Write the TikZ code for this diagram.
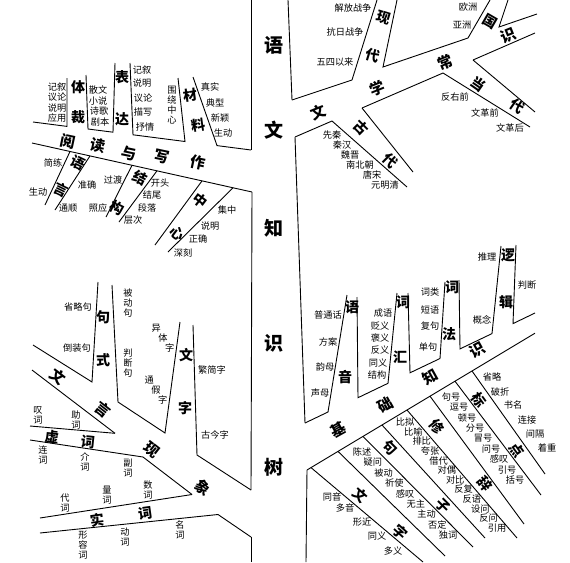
\documentclass[tikz,border=0pt]{standalone}
\usepackage{fontspec}
\newfontfamily\cjk{Noto Sans CJK SC}
\begin{document}
\begin{tikzpicture}[x=1pt,y=-1pt,
  ln/.style={line width=0.9pt, line join=miter},
  lbl/.style={font=\cjk\fontsize{9.2}{10}\selectfont, inner sep=0pt},
  vlbl/.style={inner sep=0pt, align=center, font=\cjk\fontsize{9.2}{9.9}\selectfont},
  br/.style={font=\cjk\bfseries\fontsize{14}{14}\selectfont, inner sep=0pt},
  mbr/.style={font=\cjk\bfseries\fontsize{15}{15}\selectfont, inner sep=0pt},
  ttl/.style={font=\cjk\bfseries\fontsize{19}{19}\selectfont, inner sep=0pt}]
\fill[white] (0,0) rectangle (570,562);
\useasboundingbox (0,0) rectangle (570,562);

% ---------- trunk ----------
\draw[ln] (251,0) -- (251,150);
\draw[ln] (252,192) -- (251,490);
\draw[ln] (251,537) -- (251,562);
\draw[ln] (288,0) -- (292,100);
\draw[ln] (295,137) -- (305,423);
\draw[ln] (307,470) -- (306,562);
\node[ttl] (t1) at (274,45) {语};
\node[ttl] (t2) at (274,130) {文};
\node[ttl] (t3) at (274,228) {知};
\node[ttl] (t4) at (274,343) {识};
\node[ttl] (t5) at (274,467) {树};

% ---------- 阅读与写作 ----------
\draw[ln] (33,122) -- (67,126.4) -- (67,78);
\draw[ln] (86,75) -- (88,129) -- (113,132.2) -- (115,63);
\draw[ln] (130,63) -- (133,134.8) -- (185,141.5) -- (178,78);
\draw[ln] (193,77) -- (217,145.6) -- (251,150);
\draw[ln] (32,143) -- (252,192);
\draw[ln] (70,151.5) -- (45,205);
\draw[ln] (90,155.9) -- (55,210);
\draw[ln] (132,165.3) -- (106,217);
\draw[ln] (157,170.8) -- (119,222);
\draw[ln] (202,180.9) -- (155,245);
\draw[ln] (233,187.8) -- (168,252);

\node[mbr,rotate=-12] (r1) at (68,141) {阅};
\node[mbr,rotate=-12] (r2) at (98,146) {读};
\node[mbr,rotate=-12] (r3) at (129,154) {与};
\node[mbr,rotate=-12] (r4) at (162,157) {写};
\node[mbr,rotate=-12] (r5) at (198,163) {作};

\node[lbl] (a1) at (57,87) {记叙};
\node[lbl] (a2) at (57,97.3) {议论};
\node[lbl] (a3) at (57,107.6) {说明};
\node[lbl] (a4) at (57,118) {应用};
\node[br] (a5) at (78,87) {体};
\node[br] (a6) at (78,117) {裁};
\node[lbl] (a7) at (98,90) {散文};
\node[lbl] (a8) at (98,100.6) {小说};
\node[lbl] (a9) at (99,111.2) {诗歌};
\node[lbl] (a10) at (100,122) {剧本};
\node[br] (a11) at (122,77) {表};
\node[br] (a12) at (122,119) {达};
\node[lbl] (a13) at (142,70) {记叙};
\node[lbl] (a14) at (142,83.5) {说明};
\node[lbl] (a15) at (143,98) {议论};
\node[lbl] (a16) at (143,112) {描写};
\node[lbl] (a17) at (145,127) {抒情};
\node[vlbl] (a18) at (172,105) {围\\绕\\中\\心};
\node[br,rotate=8] (a19) at (190,95) {材};
\node[br,rotate=8] (a20) at (198,125) {料};
\node[lbl] (a21) at (210,87) {真实};
\node[lbl] (a22) at (215,103) {典型};
\node[lbl] (a23) at (220,118) {新颖};
\node[lbl] (a24) at (223,133) {生动};

\node[br,rotate=-26] (b1) at (78,163) {语};
\node[br,rotate=-26] (b2) at (61,190) {言};
\node[lbl] (b3) at (53,163) {简练};
\node[lbl] (b4) at (38,192) {生动};
\node[lbl] (b5) at (87,185) {准确};
\node[lbl] (b6) at (68,208) {通顺};
\node[br,rotate=-27] (b7) at (140,178) {结};
\node[br,rotate=-27] (b8) at (117,208) {构};
\node[lbl] (b9) at (113,180) {过渡};
\node[lbl] (b10) at (98,208) {照应};
\node[lbl] (b11) at (160,183) {开头};
\node[lbl] (b12) at (152,195) {结尾};
\node[lbl] (b13) at (147,208) {段落};
\node[lbl] (b14) at (133,220) {层次};
\node[br,rotate=-37] (b15) at (200,200) {中};
\node[br,rotate=-37] (b16) at (177,233) {心};
\node[lbl] (b17) at (227,210) {集中};
\node[lbl] (b18) at (210,226) {说明};
\node[lbl] (b19) at (198,239) {正确};
\node[lbl] (b20) at (183,253) {深刻};

% ---------- 文言现象 ----------
\draw[ln] (33,345) -- (92,382) -- (98,282);
\draw[ln] (112,285) -- (118,402) -- (165,433) -- (180,322);
\draw[ln] (193,325) -- (197,455) -- (251,490);
\draw[ln] (32,370) -- (115,433.3);
\draw[ln] (143,457) -- (192,494.5);
\draw[ln] (218,514.5) -- (251,537);
\draw[ln] (30,426) -- (115,433.3);
\draw[ln] (30,440) -- (143,457);
\draw[ln] (40,518) -- (192,494.5);
\draw[ln] (40,533) -- (218,514.5);

\node[mbr,rotate=-38] (c1) at (58,377) {文};
\node[mbr,rotate=-38] (c2) at (103,410) {言};
\node[mbr,rotate=-38] (c3) at (152,450) {现};
\node[mbr,rotate=-38] (c4) at (203,488) {象};

\node[br] (c5) at (103,317) {句};
\node[br] (c6) at (103,360) {式};
\node[lbl] (c7) at (78,307) {省略句};
\node[lbl] (c8) at (77,348) {倒装句};
\node[vlbl] (c9) at (128,303) {被\\动\\句};
\node[vlbl] (c10) at (128,363) {判\\断\\句};
\node[br] (c11) at (186,355) {文};
\node[br] (c12) at (185,408) {字};
\node[lbl] (c13a) at (156.3,328.4) {异};
\node[lbl] (c13b) at (163,338) {体};
\node[lbl] (c13c) at (169.7,347.6) {字};
\node[lbl] (c14a) at (149.3,380.4) {通};
\node[lbl] (c14b) at (156,390) {假};
\node[lbl] (c14c) at (162.7,399.6) {字};
\node[lbl] (c15) at (212,370) {繁简字};
\node[lbl] (c16) at (215,435) {古今字};

\node[br,rotate=-6] (d1) at (52,437) {虚};
\node[br,rotate=-6] (d2) at (88,442) {词};
\node[vlbl] (d3) at (38,415) {叹\\词};
\node[vlbl] (d4) at (76,420) {助\\词};
\node[vlbl] (d5) at (43,455) {连\\词};
\node[vlbl] (d6) at (85,462) {介\\词};
\node[vlbl] (d7) at (128,468) {副\\词};
\node[br,rotate=8] (d8) at (97,520) {实};
\node[br,rotate=8] (d9) at (145,513) {词};
\node[vlbl] (d10) at (65,503) {代\\词};
\node[vlbl] (d11) at (107,495) {量\\词};
\node[vlbl] (d12) at (148,490) {数\\词};
\node[vlbl] (d13) at (83,545) {形\\容\\词};
\node[vlbl] (d14) at (125,537) {动\\词};
\node[vlbl] (d15) at (180,530) {名\\词};

% ---------- 文学常识 ----------
\draw[ln] (292,100) -- (352,80) -- (377,0);
\draw[ln] (397,0) -- (383,67) -- (468,38) -- (490,0);
\draw[ln] (508,0) -- (499,27) -- (537,14);
\draw[ln] (295,137) -- (332,121);
\draw[ln] (362,108) -- (443,73);
\draw[ln] (473,60) -- (535,33);
\draw[ln] (332,121) -- (407,187);
\draw[ln] (362,108) -- (413,172);
\draw[ln] (443,73) -- (530,127);
\draw[ln] (473,60) -- (535,112);

\node[mbr,rotate=22] (e1) at (318,112) {文};
\node[mbr,rotate=22] (e2) at (377,88) {学};
\node[mbr,rotate=22] (e3) at (445,62) {常};
\node[mbr,rotate=22] (e4) at (508,35) {识};
\node[lbl] (e5) at (353,8) {解放战争};
\node[lbl] (e6) at (345,32) {抗日战争};
\node[lbl] (e7) at (335,62) {五四以来};
\node[br,rotate=-17] (e8) at (384,18) {现};
\node[br,rotate=-17] (e9) at (373,55) {代};
\node[lbl] (e10) at (468,7) {欧洲};
\node[lbl] (e11) at (462,25) {亚洲};
\node[br,rotate=-30] (e12) at (490,22) {国};
\node[br,rotate=-35] (e13) at (478,84) {当};
\node[br,rotate=-35] (e14) at (517,106) {代};
\node[lbl] (e15) at (455,97) {反右前};
\node[lbl] (e16) at (485,113) {文革前};
\node[lbl] (e17) at (510,128) {文革后};
\node[br,rotate=-45] (e18) at (361,128) {古};
\node[br,rotate=-45] (e19) at (390,161) {代};
\node[lbl] (e20) at (332,135) {先秦};
\node[lbl] (e21) at (342,145) {秦汉};
\node[lbl] (e22) at (350,155) {魏晋};
\node[lbl] (e23) at (360,165) {南北朝};
\node[lbl] (e24) at (372,175) {唐宋};
\node[lbl] (e25) at (385,185) {元明清};

% ---------- 基础知识 ----------
\draw[ln] (305,423) -- (328,412) -- (347,295);
\draw[ln] (357,297) -- (358,397.7) -- (388,383.3) -- (397,293);
\draw[ln] (408,293) -- (410,372.8) -- (440,358.5) -- (445,282);
\draw[ln] (459,280) -- (460,348.9) -- (492,333.6) -- (501,246);
\draw[ln] (516,245) -- (513,323.6) -- (535,313);
\draw[ln] (307,470) -- (535,333.2);
\draw[ln] (311,467.6) -- (423,562);
\draw[ln] (338,451.4) -- (445,556);
\draw[ln] (363,436.4) -- (473,547);
\draw[ln] (382,425) -- (485,538);
\draw[ln] (407,410) -- (517,538);
\draw[ln] (430,396.2) -- (524,524);
\draw[ln] (455,381.2) -- (541,495);
\draw[ln] (472,371) -- (545,474);

\node[mbr,rotate=29] (f1) at (338,430) {基};
\node[mbr,rotate=29] (f2) at (385,405) {础};
\node[mbr,rotate=29] (f3) at (430,377) {知};
\node[mbr,rotate=29] (f4) at (477,350) {识};

\node[lbl] (g1) at (328,315) {普通话};
\node[lbl] (g2) at (328,342) {方案};
\node[lbl] (g3) at (325,367) {韵母};
\node[lbl] (g4) at (320,393) {声母};
\node[br] (g5) at (352,307) {语};
\node[br] (g6) at (345,377) {音};
\node[lbl] (g7) at (383,313) {成语};
\node[lbl] (g8) at (380,325.5) {贬义};
\node[lbl] (g9) at (380,338) {褒义};
\node[lbl] (g10) at (380,350) {反义};
\node[lbl] (g11) at (378,362.5) {同义};
\node[lbl] (g12) at (377,375) {结构};
\node[br] (g13) at (403,302) {词};
\node[br] (g14) at (400,357) {汇};
\node[lbl] (g15) at (430,292) {词类};
\node[lbl] (g16) at (430,310) {短语};
\node[lbl] (g17) at (430,326) {复句};
\node[lbl] (g18) at (428,347) {单句};
\node[br] (g19) at (452,287) {词};
\node[br] (g20) at (449,334) {法};
\node[lbl] (g21) at (487,257) {推理};
\node[lbl] (g22) at (482,320) {概念};
\node[lbl] (g23) at (527,285) {判断};
\node[br] (g24) at (508,255) {逻};
\node[br] (g25) at (506,302) {辑};

\node[lbl] (h1) at (332,497) {同音};
\node[lbl] (h2) at (345,508) {多音};
\node[lbl] (h3) at (362,522) {形近};
\node[lbl] (h4) at (377,536) {同义};
\node[lbl] (h5) at (393,551) {多义};
\node[br,rotate=-42] (h6) at (360,495) {文};
\node[br,rotate=-42] (h7) at (400,532) {字};
\node[lbl] (h8) at (362,452) {陈述};
\node[lbl] (h9) at (372.8,462.4) {疑问};
\node[lbl] (h10) at (383.5,472.8) {被动};
\node[lbl] (h11) at (394.3,483.1) {祈使};
\node[lbl] (h12) at (405,493.5) {感叹};
\node[lbl] (h13) at (415.8,503.9) {无主};
\node[lbl] (h14) at (426.5,514.3) {主动};
\node[lbl] (h15) at (437.3,524.6) {否定};
\node[lbl] (h16) at (448,535) {独词};
\node[br,rotate=-45] (h17) at (390,448) {句};
\node[br,rotate=-45] (h18) at (443,506) {子};
\node[lbl] (h19) at (405,422) {比拟};
\node[lbl] (h20) at (413.4,431.6) {比喻};
\node[lbl] (h21) at (421.7,441.3) {排比};
\node[lbl] (h22) at (430.1,450.9) {夸张};
\node[lbl] (h23) at (438.5,460.6) {借代};
\node[lbl] (h24) at (446.8,470.2) {对偶};
\node[lbl] (h25) at (455.2,479.8) {对比};
\node[lbl] (h26) at (463.5,489.5) {反复};
\node[lbl] (h27) at (471.9,499.1) {反语};
\node[lbl] (h28) at (480.3,508.8) {设问};
\node[lbl] (h29) at (488.6,518.4) {反问};
\node[lbl] (h30) at (497,528) {引用};
\node[br,rotate=-52] (h31) at (437,427) {修};
\node[br,rotate=-52] (h32) at (485,483.5) {辞};
\node[lbl] (h33) at (451,397) {句号};
\node[lbl] (h34) at (459,407.4) {逗号};
\node[lbl] (h35) at (467,417.8) {顿号};
\node[lbl] (h36) at (475,428.1) {分号};
\node[lbl] (h37) at (483,438.5) {冒号};
\node[lbl] (h38) at (491,448.9) {问号};
\node[lbl] (h39) at (499,459.3) {感叹};
\node[lbl] (h40) at (507,469.6) {引号};
\node[lbl] (h41) at (515,480) {括号};
\node[br,rotate=-54] (h42) at (479,400) {标};
\node[br,rotate=-54] (h43) at (517,450) {点};
\node[lbl] (h44) at (492,377) {省略};
\node[lbl] (h45) at (500,392) {破折};
\node[lbl] (h46) at (513,405) {书名};
\node[lbl] (h47) at (527,420) {连接};
\node[lbl] (h48) at (535,434) {间隔};
\node[lbl] (h49) at (547,448) {着重};
\end{tikzpicture}
\end{document}
